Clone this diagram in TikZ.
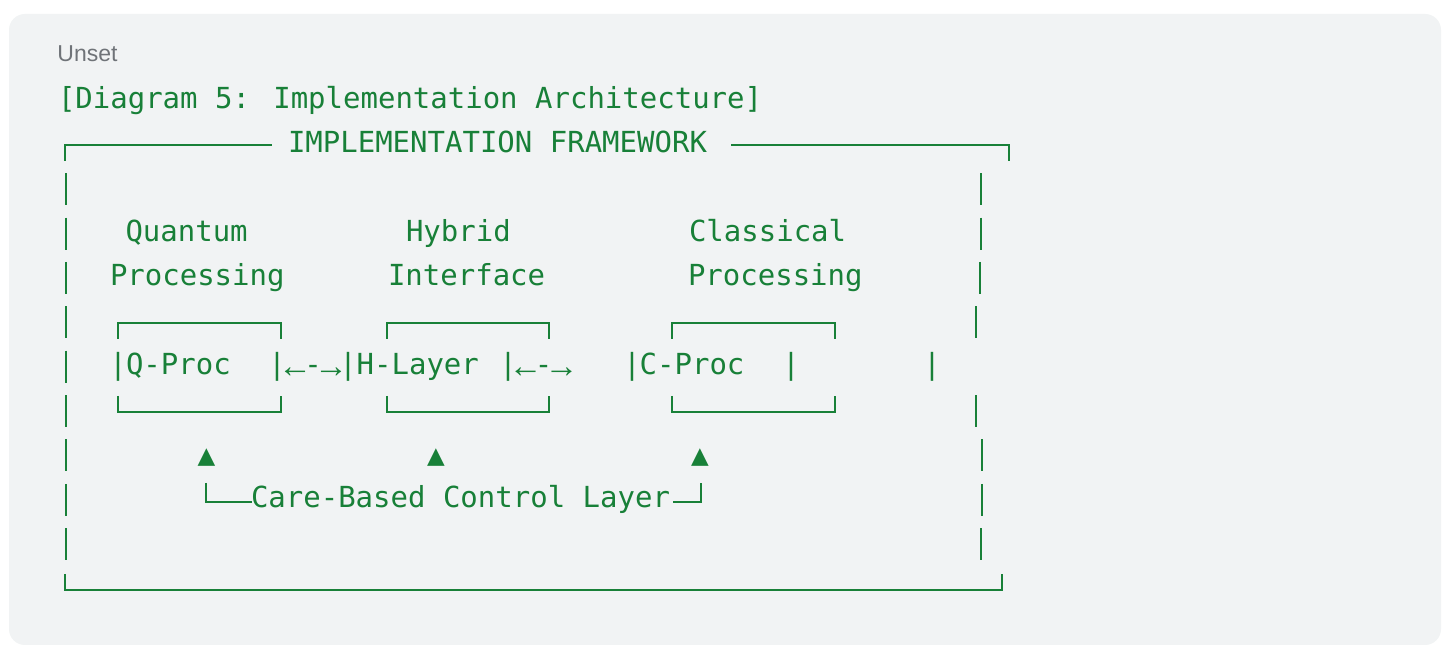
\documentclass[tikz,border=0pt]{standalone}
\usepackage{fontspec}
\newfontfamily\monof{DejaVu Sans Mono}
\newfontfamily\labf{Liberation Sans}
\newfontfamily\symf{DejaVu Sans}
\newfontfamily\arrf{Liberation Sans}
\definecolor{codegreen}{HTML}{188038}
\definecolor{panelgray}{HTML}{F1F3F4}
\definecolor{labgray}{HTML}{6F7378}
\tikzset{
  txt/.style={anchor=base west, inner sep=0pt, outer sep=0pt, text=codegreen, font=\monof\fontsize{14.5pt}{17pt}\selectfont},
  pipe/.style={anchor=base, inner sep=0pt, outer sep=0pt, text=codegreen, font=\monof\fontsize{14.5pt}{17pt}\selectfont},
  tri/.style={anchor=base, inner sep=0pt, outer sep=0pt, text=codegreen, font=\symf\fontsize{11.5pt}{14pt}\selectfont},
  arrgrp/.style={anchor=base west, inner sep=0pt, outer sep=0pt, text=codegreen},
  boxline/.style={draw=codegreen, line width=1pt},
}
\newcommand{\arrowgroup}{\makebox[9pt][c]{\arrf\fontsize{17pt}{19pt}\selectfont\raisebox{-1.2pt}{←}}\makebox[9pt][c]{\monof\fontsize{14.5pt}{17pt}\selectfont -}\makebox[9pt][c]{\arrf\fontsize{17pt}{19pt}\selectfont\raisebox{-1.2pt}{→}}}
\begin{document}
\begin{tikzpicture}[x=0.5pt,y=-0.5pt]
\useasboundingbox (0,0) rectangle (1442,646);
\fill[white] (0,0) rectangle (1442,646);
\fill[panelgray, rounded corners=8pt] (9,14) rectangle (1441,645);
% label
\node[anchor=base west, inner sep=0pt, text=labgray, font=\labf\fontsize{11.5pt}{13pt}\selectfont] (unset) at (57,62) {Unset};
% row 1
\node[txt] (title) at (58,108.5) {[Diagram 5: Implementation Architecture]};
% row 2 frame top
\node[txt] (frame) at (288,153) {IMPLEMENTATION FRAMEWORK};
\draw[boxline] (65,161) -- (65,145) -- (272,145);
\draw[boxline] (731,145) -- (1009,145) -- (1009,161);
% frame left side segments
\foreach \b in {197.2,241.6,286,330.4,374.7,419.1,463.5,507.8,552.2}
  \draw[boxline] (66,\b-24) -- (66,\b+8);
% frame right side segments
\foreach \b/\x in {197.2/981,241.6/981,286/980,330.4/976,419.1/976,463.5/982,507.8/982,552.2/981}
  \draw[boxline] (\x,\b-24) -- (\x,\b+8);
% frame bottom
\draw[boxline] (65,574) -- (65,590) -- (1002,590) -- (1002,574);
% headings
\node[txt] (quantum) at (125.5,241.6) {Quantum};
\node[txt] (hybrid) at (406,241.6) {Hybrid};
\node[txt] (classical) at (689,241.6) {Classical};
\node[txt] (qproc1) at (110,286) {Processing};
\node[txt] (iface) at (388,286) {Interface};
\node[txt] (cproc1) at (688,286) {Processing};
% box tops
\draw[boxline] (118,339) -- (118,323) -- (281,323) -- (281,339);
\draw[boxline] (387,339) -- (387,323) -- (549,323) -- (549,339);
\draw[boxline] (672,339) -- (672,323) -- (835,323) -- (835,339);
% box bottoms
\draw[boxline] (118,396) -- (118,412) -- (281,412) -- (281,396);
\draw[boxline] (387,396) -- (387,412) -- (549,412) -- (549,396);
\draw[boxline] (672,396) -- (672,412) -- (835,412) -- (835,396);
% row 7
\node[pipe] (p1) at (118,374.7) {|};
\node[txt] (qp) at (126,374.7) {Q-Proc};
\node[pipe] (p2) at (277,374.7) {|};
\node[arrgrp] (ar1) at (286,374.7) {\arrowgroup};
\node[pipe] (p3) at (348,374.7) {|};
\node[txt] (hl) at (356.7,374.7) {H-Layer};
\node[pipe] (p4) at (508,374.7) {|};
\node[arrgrp] (ar2) at (516.5,374.7) {\arrowgroup};
\node[pipe] (p5) at (632,374.7) {|};
\node[txt] (cp) at (639.7,374.7) {C-Proc};
\node[pipe] (p6) at (791,374.7) {|};
\node[pipe] (p7) at (932,374.7) {|};
% triangles
\node[tri] (t1) at (206.5,463.5) {▲};
\node[tri] (t2) at (436,463.5) {▲};
\node[tri] (t3) at (700,463.5) {▲};
% control layer
\draw[boxline] (206,483) -- (206,502) -- (252,502);
\node[txt] (care) at (251,507.8) {Care-Based Control Layer};
\draw[boxline] (673,502) -- (701,502) -- (701,483);
\end{tikzpicture}
\end{document}
